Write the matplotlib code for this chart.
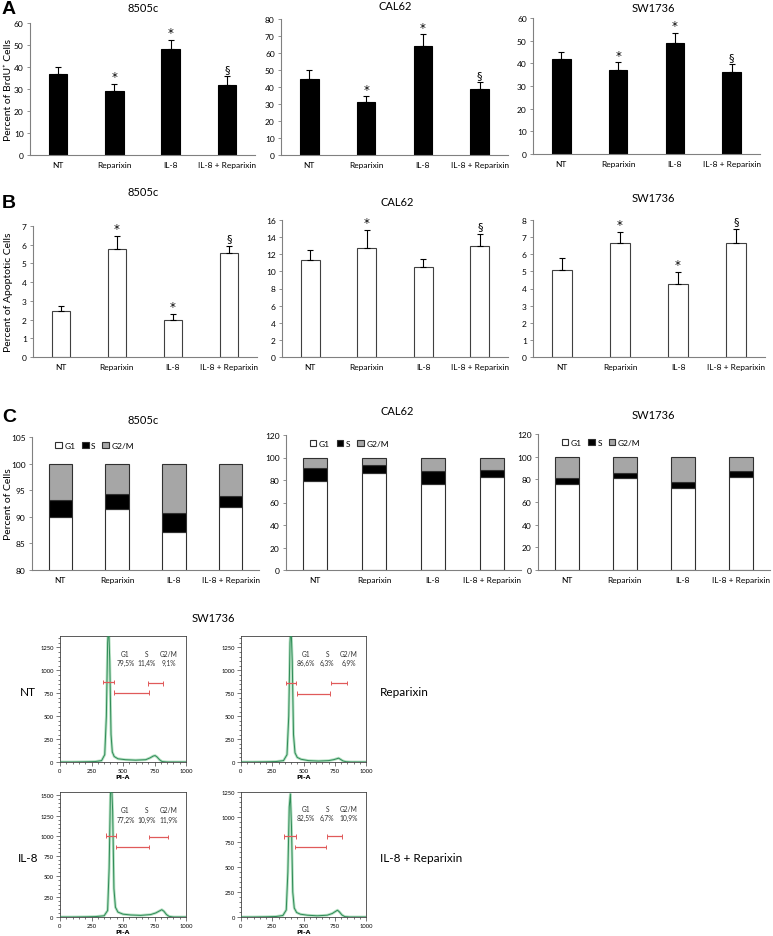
import numpy as np
import matplotlib.pyplot as plt
from matplotlib.ticker import MultipleLocator

plt.rcParams['font.family'] = ['Lato', 'DejaVu Sans']

W, H = 773, 937

treatments = ['NT', 'Reparixin', 'IL-8', 'IL-8 + Reparixin']

# A - BrdU incorporation
brdu_8505c = [37, 29, 48, 32]
brdu_8505c_err = [3.0, 3.5, 4.5, 3.8]
brdu_cal62 = [45, 31, 64, 39]
brdu_cal62_err = [4.8, 3.5, 7.0, 4.0]
brdu_sw1736 = [42, 37, 49, 36]
brdu_sw1736_err = [3.0, 3.5, 4.5, 3.8]
brdu_marks = ['', '*', '*', '§']

# B - apoptosis
apo_8505c = [2.45, 5.75, 2.0, 5.55]
apo_8505c_err = [0.3, 0.7, 0.3, 0.4]
apo_cal62 = [11.3, 12.7, 10.5, 13.0]
apo_cal62_err = [1.2, 2.1, 0.9, 1.4]
apo_sw1736 = [5.1, 6.65, 4.25, 6.65]
apo_sw1736_err = [0.7, 0.65, 0.7, 0.85]
apo_marks_8505c = ['', '*', '*', '§']
apo_marks_cal62 = ['', '*', '', '§']
apo_marks_sw1736 = ['', '*', '*', '§']

# C - cell cycle
g1_8505c = [89.9, 91.4, 87.1, 91.8]
s_8505c = [3.3, 2.8, 3.7, 2.2]
g1_cal62 = [79.4, 86.2, 76.7, 82.3]
s_cal62 = [11.2, 6.7, 11.5, 6.7]
g1_sw1736 = [76.0, 81.6, 72.0, 82.5]
s_sw1736 = [5.6, 4.4, 6.0, 4.5]

# flow histograms SW1736 (PI-A vs count)
nt_x = [0, 100, 200, 280, 330, 355, 368, 378, 386, 395, 405, 415, 430, 460, 520, 600, 680, 715, 740, 755, 770, 790, 810, 850, 1000]
nt_y = [0, 0, 2, 5, 15, 80, 500, 1300, 1500, 1100, 300, 110, 60, 35, 25, 20, 25, 45, 65, 70, 55, 25, 5, 0, 0]
rep_x = [0, 100, 200, 280, 340, 368, 382, 392, 400, 410, 420, 432, 450, 480, 540, 620, 700, 740, 765, 780, 795, 815, 840, 880, 1000]
rep_y = [0, 0, 2, 5, 15, 80, 500, 1300, 1500, 1100, 300, 100, 50, 30, 15, 10, 15, 25, 35, 42, 30, 12, 3, 0, 0]
il8_x = [0, 100, 200, 280, 350, 378, 390, 400, 408, 418, 428, 440, 460, 500, 560, 640, 720, 760, 790, 808, 825, 845, 865, 900, 1000]
il8_y = [0, 0, 2, 5, 15, 80, 600, 1500, 1700, 1300, 350, 120, 60, 35, 25, 20, 30, 50, 75, 90, 70, 30, 8, 0, 0]
ilrep_x = [0, 100, 200, 280, 335, 362, 375, 386, 395, 404, 414, 426, 445, 475, 530, 610, 690, 730, 755, 772, 788, 808, 830, 870, 1000]
ilrep_y = [0, 0, 2, 5, 15, 70, 450, 1100, 1230, 900, 250, 90, 45, 28, 18, 12, 18, 35, 55, 68, 50, 20, 4, 0, 0]

nt_pct = ['79,5%', '11,4%', '9,1%']
rep_pct = ['86,6%', '6,3%', '6,9%']
il8_pct = ['77,2%', '10,9%', '11,9%']
ilrep_pct = ['82,5%', '6,7%', '10,9%']

fig = plt.figure(figsize=(W / 100, H / 100), dpi=100)


def px_axes(left, top, right, bottom):
    return fig.add_axes([left / W, 1 - bottom / H, (right - left) / W, (bottom - top) / H])


def ftext(x, y, s, **kw):
    fig.text(x / W, 1 - y / H, s, **kw)


def style_bar_axes(ax, ylim, step):
    ax.set_xlim(-0.5, 3.5)
    ax.set_ylim(*ylim)
    ax.yaxis.set_major_locator(MultipleLocator(step))
    for side in ['top', 'right']:
        ax.spines[side].set_visible(False)
    for side in ['left', 'bottom']:
        ax.spines[side].set_color('#808080')
        ax.spines[side].set_linewidth(0.8)
    ax.tick_params(axis='y', labelsize=6, length=2.5, width=0.6, color='#808080', pad=2)
    ax.tick_params(axis='x', labelsize=6, length=0, pad=4)
    ax.set_xticks(range(4))
    ax.set_xticklabels(treatments)


def err_bars(ax, vals, errs, marks, face, edge, offset):
    x = np.arange(4)
    ax.bar(x, vals, width=0.33, color=face, edgecolor=edge, linewidth=0.8, zorder=2)
    ax.errorbar(x, vals, yerr=[np.zeros(4), errs], fmt='none', ecolor='black',
                elinewidth=0.8, capsize=2, capthick=0.8, zorder=3)
    for xi, v, e, m in zip(x, vals, errs, marks):
        if m == '§':
            ax.text(xi, v + e + offset * 2.5, m, ha='center', va='bottom',
                    fontsize=8, family=['DejaVu Sans'])
        elif m:
            ax.text(xi, v + e + offset, m, ha='center', va='bottom',
                    fontsize=8.5, family=['DejaVu Sans'])


# ---- A ----
ax = px_axes(30, 24, 255, 156)
err_bars(ax, brdu_8505c, brdu_8505c_err, brdu_marks, 'black', 'black', 0.3)
style_bar_axes(ax, (0, 60), 10)
ax = px_axes(281, 20, 508, 156)
err_bars(ax, brdu_cal62, brdu_cal62_err, brdu_marks, 'black', 'black', 0.4)
style_bar_axes(ax, (0, 80), 10)
ax = px_axes(533, 19, 760, 155)
err_bars(ax, brdu_sw1736, brdu_sw1736_err, brdu_marks, 'black', 'black', 0.3)
style_bar_axes(ax, (0, 60), 10)

ftext(143, 8, '8505c', ha='center', va='center', fontsize=8)
ftext(395, 7, 'CAL62', ha='center', va='center', fontsize=8)
ftext(653, 8, 'SW1736', ha='center', va='center', fontsize=8)
ftext(2, 9, 'A', ha='left', va='center', fontsize=14, fontweight='bold', family=['Liberation Sans'])
ftext(9, 90, 'Percent of BrdU⁺ Cells', ha='center', va='center', rotation=90, fontsize=7.5)

# ---- B ----
ax = px_axes(33, 227, 257, 358)
err_bars(ax, apo_8505c, apo_8505c_err, apo_marks_8505c, 'white', '#404040', 0.05)
style_bar_axes(ax, (0, 7), 1)
ax = px_axes(282, 221, 508, 358)
err_bars(ax, apo_cal62, apo_cal62_err, apo_marks_cal62, 'white', '#404040', 0.1)
style_bar_axes(ax, (0, 16), 2)
ax = px_axes(533, 221, 765, 358)
err_bars(ax, apo_sw1736, apo_sw1736_err, apo_marks_sw1736, 'white', '#404040', 0.05)
style_bar_axes(ax, (0, 8), 1)

ftext(143, 193, '8505c', ha='center', va='center', fontsize=8)
ftext(397, 202, 'CAL62', ha='center', va='center', fontsize=8)
ftext(653, 199, 'SW1736', ha='center', va='center', fontsize=8)
ftext(2, 204, 'B', ha='left', va='center', fontsize=14, fontweight='bold', family=['Liberation Sans'])
ftext(9, 292, 'Percent of Apoptotic Cells', ha='center', va='center', rotation=90, fontsize=7.5)


# ---- C ----
def cycle_bars(ax, g1, s):
    x = np.arange(4)
    g1 = np.array(g1)
    s = np.array(s)
    g2m = 100 - g1 - s
    ax.bar(x, g1, width=0.41, color='white', edgecolor='#303030', linewidth=0.8, label='G1', zorder=2)
    ax.bar(x, s, bottom=g1, width=0.41, color='black', edgecolor='#303030', linewidth=0.8, label='S', zorder=2)
    ax.bar(x, g2m, bottom=g1 + s, width=0.41, color='#a6a6a6', edgecolor='#303030', linewidth=0.8,
           label='G2/M', zorder=2)
    ax.legend(loc='upper left', bbox_to_anchor=(0.08, 1.0), ncol=3, frameon=False, fontsize=6,
              handlelength=0.8, handleheight=0.8, handletextpad=0.3, columnspacing=0.8, borderaxespad=0.2)


ax = px_axes(32, 438, 259, 571)
cycle_bars(ax, g1_8505c, s_8505c)
style_bar_axes(ax, (80, 105), 5)
ax = px_axes(286, 436, 521, 571)
cycle_bars(ax, g1_cal62, s_cal62)
style_bar_axes(ax, (0, 120), 20)
ax = px_axes(538, 435, 770, 571)
cycle_bars(ax, g1_sw1736, s_sw1736)
style_bar_axes(ax, (0, 120), 20)

ftext(143, 420, '8505c', ha='center', va='center', fontsize=8)
ftext(397, 412, 'CAL62', ha='center', va='center', fontsize=8)
ftext(653, 416, 'SW1736', ha='center', va='center', fontsize=8)
ftext(2, 418, 'C', ha='left', va='center', fontsize=14, fontweight='bold', family=['Liberation Sans'])
ftext(9, 504, 'Percent of Cells', ha='center', va='center', rotation=90, fontsize=7.5)


# ---- flow histograms ----
def flow_panel(rect, hx, hy, ymax, pct, gates, text_y, pct_y):
    ax = px_axes(*rect)
    ax.plot(hx, hy, color='#b5e0c2', lw=2.0, zorder=2)
    ax.plot(hx, hy, color='#2e8b57', lw=0.7, zorder=3)
    ax.set_xlim(0, 1000)
    ax.set_ylim(0, ymax)
    ax.xaxis.set_major_locator(MultipleLocator(250))
    ax.xaxis.set_minor_locator(MultipleLocator(50))
    ax.yaxis.set_major_locator(MultipleLocator(250))
    ax.yaxis.set_minor_locator(MultipleLocator(50))
    ax.tick_params(which='both', labelsize=4.2, width=0.5, color='#404040', pad=1.5)
    ax.tick_params(which='major', length=3)
    ax.tick_params(which='minor', length=1.5)
    for sp in ax.spines.values():
        sp.set_linewidth(0.6)
        sp.set_color('#404040')
    ax.set_xlabel('PI-A', fontsize=4.5, fontweight='bold', labelpad=0.5, family=['DejaVu Sans'])
    for (x0, x1, gy) in gates:
        ax.hlines(gy, x0, x1, colors='#e05a5a', lw=0.9, zorder=4)
        ax.vlines([x0, x1], gy - ymax * 0.018, gy + ymax * 0.018, colors='#e05a5a', lw=0.7, zorder=4)
    for (lab, xc), p in zip([('G1', 520), ('S', 690), ('G2/M', 862)], pct):
        ax.text(xc, text_y, lab, ha='center', va='center', fontsize=4.8, color='#303030')
        ax.text(xc, pct_y, p, ha='center', va='center', fontsize=4.8, color='#303030')
    return ax


flow_panel((60, 637, 186, 763), nt_x, nt_y, 1375, nt_pct,
           [(341, 429, 873), (426, 704, 758), (698, 817, 859)], 1188, 1081)
flow_panel((241, 637, 366, 763), rep_x, rep_y, 1375, rep_pct,
           [(357, 440, 860), (445, 712, 745), (720, 845, 860)], 1188, 1081)
flow_panel((60, 793, 186, 918), il8_x, il8_y, 1540, il8_pct,
           [(365, 444, 1003), (444, 709, 864), (709, 860, 984)], 1330, 1206)
flow_panel((241, 793, 366, 918), ilrep_x, ilrep_y, 1250, ilrep_pct,
           [(346, 438, 807), (432, 680, 700), (690, 810, 807)], 1087, 993)

ftext(213, 618, 'SW1736', ha='center', va='center', fontsize=8)
ftext(28, 693, 'NT', ha='center', va='center', fontsize=8.5)
ftext(380, 693, 'Reparixin', ha='left', va='center', fontsize=8.5)
ftext(28, 858, 'IL-8', ha='center', va='center', fontsize=8.5)
ftext(380, 858, 'IL-8 + Reparixin', ha='left', va='center', fontsize=8.5)

fig.savefig('out.png', dpi=100)
